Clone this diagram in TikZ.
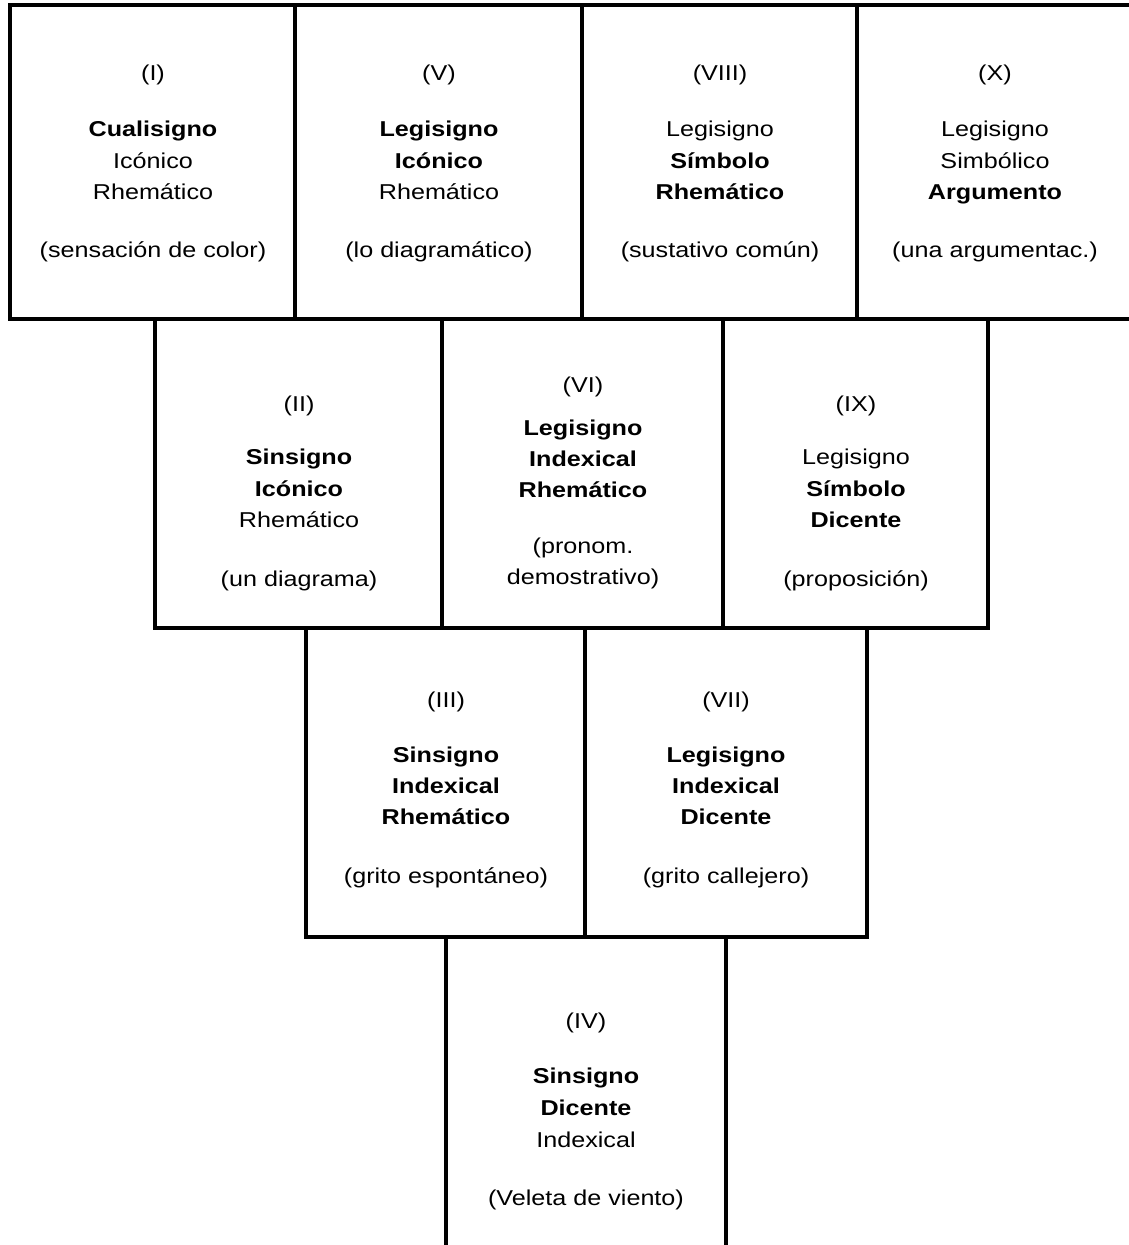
\documentclass[tikz,border=0pt]{standalone}
\usepackage{fontspec}
\setmainfont{Liberation Sans}[FakeStretch=1.17]
\tikzset{
  cell/.style={draw=black, line width=3.4pt, inner sep=0pt, outer sep=0pt, rectangle},
  txt/.style={anchor=base, inner sep=0pt, font=\fontsize{21.5}{26}\selectfont, text=black},
}
\newcommand\celltext[3]{%
  \foreach \yy/\txt [count=\k] in {#3} {\node[txt] (#1-\k) at (#2,\yy) {\txt};}%
}
\begin{document}
\begin{tikzpicture}[x=1pt,y=-1pt]
\useasboundingbox (0,0) rectangle (1128,1245);
% row 1
\node[cell, minimum width=285pt, minimum height=314pt] (bI)    at (152.5,162) {};
\node[cell, minimum width=287pt, minimum height=314pt] (bV)    at (438.5,162) {};
\node[cell, minimum width=275pt, minimum height=314pt] (bVIII) at (719.5,162) {};
\node[cell, minimum width=278pt, minimum height=314pt] (bX)    at (996,162) {};
% row 2
\node[cell, minimum width=287pt, minimum height=309pt] (bII)   at (298.5,473.5) {};
\node[cell, minimum width=281pt, minimum height=309pt] (bVI)   at (582.5,473.5) {};
\node[cell, minimum width=265pt, minimum height=309pt] (bIX)   at (855.5,473.5) {};
% row 3
\node[cell, minimum width=279pt, minimum height=309pt] (bIII)  at (445.5,782.5) {};
\node[cell, minimum width=282pt, minimum height=309pt] (bVII)  at (726,782.5) {};
% row 4
\node[cell, minimum width=280pt, minimum height=328pt] (bIV)   at (586,1101) {};

% texts row 1
\celltext{tI}{153}{80/(I), 136/\textbf{Cualisigno}, 168/Icónico, 199/Rhemático, 257/(sensación de color)}
\celltext{tV}{439}{80/(V), 136/\textbf{Legisigno}, 168/\textbf{Icónico}, 199/Rhemático, 257/(lo diagramático)}
\celltext{tVIII}{720}{80/(VIII), 136/Legisigno, 168/\textbf{Símbolo}, 199/\textbf{Rhemático}, 257/(sustativo común)}
\celltext{tX}{995}{80/(X), 136/Legisigno, 168/Simbólico, 199/\textbf{Argumento}, 257/(una argumentac.)}
% texts row 2
\celltext{tII}{299}{411/(II), 464/\textbf{Sinsigno}, 496/\textbf{Icónico}, 527/Rhemático, 586/(un diagrama)}
\celltext{tVI}{583}{392/(VI), 435/\textbf{Legisigno}, 466/\textbf{Indexical}, 497/\textbf{Rhemático}, 553/(pronom., 584/demostrativo)}
\celltext{tIX}{856}{411/(IX), 464/Legisigno, 496/\textbf{Símbolo}, 527/\textbf{Dicente}, 586/(proposición)}
% texts row 3
\celltext{tIII}{446}{707/(III), 762/\textbf{Sinsigno}, 793/\textbf{Indexical}, 824/\textbf{Rhemático}, 883/(grito espontáneo)}
\celltext{tVII}{726}{707/(VII), 762/\textbf{Legisigno}, 793/\textbf{Indexical}, 824/\textbf{Dicente}, 883/(grito callejero)}
% texts row 4
\celltext{tIV}{586}{1028/(IV), 1083/\textbf{Sinsigno}, 1115/\textbf{Dicente}, 1147/Indexical, 1205/(Veleta de viento)}
\end{tikzpicture}
\end{document}
